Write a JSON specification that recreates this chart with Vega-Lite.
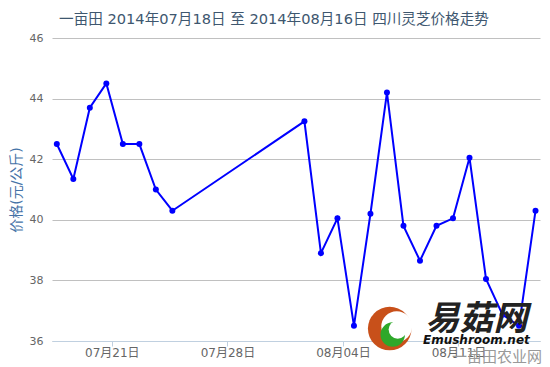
{
  "$schema": "https://vega.github.io/schema/vega-lite/v6.json",
  "autosize": {"type": "none"},
  "width": 488,
  "height": 303,
  "padding": {"left": 52, "top": 38, "right": 10, "bottom": 26},
  "background": "white",
  "config": {
    "font": "DejaVu Sans, Noto Sans CJK SC",
    "view": {"stroke": null}
  },
  "title": {
    "text": "一亩田 2014年07月18日 至 2014年08月16日 四川灵芝价格走势",
    "font": "DejaVu Sans, Noto Sans CJK SC",
    "fontSize": 14.6,
    "fontWeight": "normal",
    "color": "#3E576F",
    "anchor": "middle",
    "dx": -22,
    "offset": 5
  },
  "resolve": {"axis": {"x": "independent", "y": "independent"}},
  "layer": [
    {
      "data": {
        "values": [
          {"date": "2014-07-18", "price": 42.5},
          {"date": "2014-07-19", "price": 41.35},
          {"date": "2014-07-20", "price": 43.7},
          {"date": "2014-07-21", "price": 44.5},
          {"date": "2014-07-22", "price": 42.5},
          {"date": "2014-07-23", "price": 42.5},
          {"date": "2014-07-24", "price": 41.0},
          {"date": "2014-07-25", "price": 40.3},
          {"date": "2014-08-02", "price": 43.25},
          {"date": "2014-08-03", "price": 38.9},
          {"date": "2014-08-04", "price": 40.05},
          {"date": "2014-08-05", "price": 36.5},
          {"date": "2014-08-06", "price": 40.2},
          {"date": "2014-08-07", "price": 44.2},
          {"date": "2014-08-08", "price": 39.8},
          {"date": "2014-08-09", "price": 38.65},
          {"date": "2014-08-10", "price": 39.8},
          {"date": "2014-08-11", "price": 40.05},
          {"date": "2014-08-12", "price": 42.05},
          {"date": "2014-08-13", "price": 38.05},
          {"date": "2014-08-14", "price": 36.87},
          {"date": "2014-08-15", "price": 36.5},
          {"date": "2014-08-16", "price": 40.3}
        ]
      },
      "mark": {
        "type": "line",
        "color": "#0000FF",
        "strokeWidth": 2,
        "point": {"filled": true, "color": "#0000FF", "size": 36, "opacity": 1}
      },
      "encoding": {
        "x": {
          "field": "date",
          "type": "temporal",
          "scale": {
            "type": "utc",
            "domain": [
              {"year": 2014, "month": 7, "date": 17, "hours": 17, "utc": true},
              {"year": 2014, "month": 8, "date": 16, "hours": 6, "minutes": 30, "utc": true}
            ]
          },
          "axis": {
            "title": null,
            "values": [
              {"year": 2014, "month": 7, "date": 21, "hours": 8, "utc": true},
              {"year": 2014, "month": 7, "date": 28, "hours": 8, "utc": true},
              {"year": 2014, "month": 8, "date": 4, "hours": 8, "utc": true},
              {"year": 2014, "month": 8, "date": 11, "hours": 8, "utc": true}
            ],
            "labelExpr": "utcFormat(datum.value, '%m月%d日')",
            "grid": false,
            "domainColor": "#C0D0E0",
            "tickColor": "#C0D0E0",
            "tickSize": 5,
            "labelColor": "#666666",
            "labelFontSize": 12,
            "labelPadding": 1,
            "labelFont": "DejaVu Sans, Noto Sans CJK SC"
          }
        },
        "y": {
          "field": "price",
          "type": "quantitative",
          "scale": {"domain": [36, 46], "nice": false, "zero": false},
          "axis": {
            "title": "价格(元/公斤)",
            "titleColor": "#4572A7",
            "titleFontSize": 14,
            "titleFontWeight": "normal",
            "titleFont": "DejaVu Sans, Noto Sans CJK SC",
            "titlePadding": 6,
            "values": [36, 38, 40, 42, 44, 46],
            "gridColor": "#C0C0C0",
            "gridWidth": 1,
            "domain": false,
            "ticks": false,
            "labelColor": "#666666",
            "labelFontSize": 11,
            "labelPadding": 9
          }
        }
      }
    },
    {
      "data": {"values": [{}]},
      "mark": {"type": "point", "filled": true, "shape": "circle", "color": "#C8501A", "opacity": 1, "size": 1900},
      "encoding": {
        "x": {"datum": {"year": 2014, "month": 8, "date": 7, "hours": 4, "utc": true}, "type": "temporal", "axis": null},
        "y": {"datum": 36.41, "axis": null}
      }
    },
    {
      "data": {"values": [{}]},
      "mark": {"type": "point", "filled": true, "shape": "circle", "color": "#FFFFFF", "opacity": 1, "size": 950, "xOffset": 7, "yOffset": -2},
      "encoding": {
        "x": {"datum": {"year": 2014, "month": 8, "date": 7, "hours": 4, "utc": true}, "type": "temporal", "axis": null},
        "y": {"datum": 36.41, "axis": null}
      }
    },
    {
      "data": {"values": [{}]},
      "mark": {"type": "point", "filled": true, "shape": "circle", "color": "#2EA82A", "opacity": 1, "size": 600, "xOffset": 3, "yOffset": 6},
      "encoding": {
        "x": {"datum": {"year": 2014, "month": 8, "date": 7, "hours": 4, "utc": true}, "type": "temporal", "axis": null},
        "y": {"datum": 36.41, "axis": null}
      }
    },
    {
      "data": {"values": [{}]},
      "mark": {"type": "point", "filled": true, "shape": "circle", "color": "#FFFFFF", "opacity": 1, "size": 330, "xOffset": 8, "yOffset": 1},
      "encoding": {
        "x": {"datum": {"year": 2014, "month": 8, "date": 7, "hours": 4, "utc": true}, "type": "temporal", "axis": null},
        "y": {"datum": 36.41, "axis": null}
      }
    },
    {
      "data": {"values": [{}]},
      "mark": {"type": "text", "text": "易菇网", "font": "Noto Sans CJK SC", "fontSize": 34, "fontWeight": "bold", "fontStyle": "italic", "color": "#222222", "align": "center", "baseline": "middle"},
      "encoding": {
        "x": {"datum": {"year": 2014, "month": 8, "date": 12, "hours": 10, "utc": true}, "type": "temporal", "axis": null},
        "y": {"datum": 36.68, "axis": null}
      }
    },
    {
      "data": {"values": [{}]},
      "mark": {"type": "text", "text": "Emushroom.net", "font": "DejaVu Sans", "fontSize": 12, "fontWeight": "bold", "fontStyle": "italic", "color": "#111111", "align": "center", "baseline": "middle"},
      "encoding": {
        "x": {"datum": {"year": 2014, "month": 8, "date": 12, "hours": 10, "utc": true}, "type": "temporal", "axis": null},
        "y": {"datum": 36.02, "axis": null}
      }
    },
    {
      "data": {"values": [{}]},
      "mark": {"type": "text", "text": "一亩田农业网", "font": "Noto Sans CJK SC", "fontSize": 15, "color": "#999999", "align": "center", "baseline": "middle"},
      "encoding": {
        "x": {"datum": {"year": 2014, "month": 8, "date": 13, "hours": 16, "utc": true}, "type": "temporal", "axis": null},
        "y": {"datum": 35.47, "axis": null}
      }
    }
  ]
}
